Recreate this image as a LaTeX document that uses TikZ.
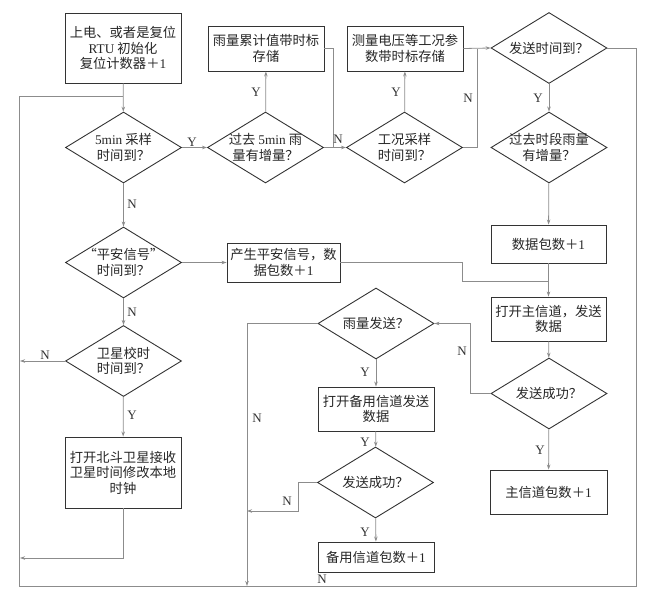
\documentclass[tikz,border=0pt]{standalone}
\usepackage{fontspec}
\setmainfont{Noto Sans CJK SC}
\newfontfamily\lat{Liberation Serif}
\usetikzlibrary{arrows.meta,shapes.geometric}
\newcommand\Lt[1]{{\lat #1}}
\begin{document}
\begin{tikzpicture}[x=1pt,y=-1pt,
 font=\fontsize{13.3}{15.5}\selectfont,
 box/.style={draw=black!80,line width=0.9pt,inner sep=0pt,align=center,text=black!85},
 dia/.style={draw=black!80,line width=0.9pt,shape=diamond,inner sep=0pt,minimum width=116pt,minimum height=71pt},
 dl/.style={label={[align=center,font=\fontsize{13.3}{15.5}\selectfont,text=black!85]center:#1}},
 conn/.style={draw=black!45,line width=0.8pt},
 arr/.style={conn,-{Stealth[length=5pt,width=3.5pt]}},
 yn/.style={font=\lat\fontsize{13}{15}\selectfont,text=black!80,inner sep=0pt}
]
\useasboundingbox (0,0) rectangle (665,600);

% boxes
\node[box,minimum width=116pt,minimum height=70pt] (b1) at (123,48) {上电、或者是复位\\\Lt{RTU} 初始化\\复位计数器＋\Lt{1}};
\node[box,minimum width=116pt,minimum height=45pt] (b2) at (266,48.5) {雨量累计值带时标\\存储};
\node[box,minimum width=116pt,minimum height=45pt] (b3) at (405,48.5) {测量电压等工况参\\数带时标存储};
\node[box,minimum width=115pt,minimum height=38pt] (b4) at (548.5,244) {数据包数＋\Lt{1}};
\node[box,minimum width=115pt,minimum height=44pt] (b5) at (548.5,319) {打开主信道，发送\\数据};
\node[box,minimum width=117pt,minimum height=44pt] (b8) at (548.5,492) {主信道包数＋\Lt{1}};
\node[box,minimum width=113pt,minimum height=39pt] (b9) at (283.5,262.5) {产生平安信号，数\\据包数＋\Lt{1}};
\node[box,minimum width=116pt,minimum height=44pt] (b6) at (376,409) {打开备用信道发送\\数据};
\node[box,minimum width=116pt,minimum height=30pt] (b7) at (376,557) {备用信道包数＋\Lt{1}};
\node[box,minimum width=116pt,minimum height=71pt] (b10) at (123,472.5) {打开北斗卫星接收\\卫星时间修改本地\\时钟};

% diamonds
\node[dia,dl={\Lt{5min} 采样\\时间到？}] (d1) at (123.5,147.5) {};
\node[dia,dl={过去 \Lt{5min} 雨\\量有增量？}] (d2) at (265.5,147.5) {};
\node[dia,dl={工况采样\\时间到？}] (d3) at (404.5,147.5) {};
\node[dia,dl={发送时间到？}] (d4) at (549,48) {};
\node[dia,dl={过去时段雨量\\有增量？}] (d5) at (549,147.5) {};
\node[dia,dl={“平安信号”\\时间到？}] (d9) at (123.5,262.5) {};
\node[dia,dl={卫星校时\\时间到？}] (d10) at (123.5,361) {};
\node[dia,dl={雨量发送？}] (d7) at (376,323.5) {};
\node[dia,dl={发送成功？}] (d8) at (375.5,482.5) {};
\node[dia,dl={发送成功？}] (d6) at (549,393.5) {};

% junction coordinates
\coordinate (j1) at (123,96);
\coordinate (j2) at (333,147.5);
\coordinate (j3) at (549,281);
\coordinate (eL1) at (20,361);
\coordinate (eL2) at (20,558);
\coordinate (eB) at (247,586);
\coordinate (eM) at (247,511);

% connectors
\draw[arr] (b1) -- (d1);
\draw[conn] (d4.east) -- (636,48) -- (636,586) -- (19,586) -- (19,96) -- (j1);
\draw[arr] (d1) -- (d2);
\draw[arr] (d2) -- (b2);
\draw[conn] (b2.east) -| (j2);
\draw[arr] (d2) -- (d3);
\draw[arr] (d3) -- (b3);
\draw[arr] (b3.east) -- (d4.west);
\draw[conn] (d3.east) -- (477,147.5) -- (477,49);
\draw[arr] (d4) -- (d5);
\draw[arr] (d5) -- (b4);
\draw[arr] (b4) -- (b5);
\draw[conn] (b9.east) -- (462,262.5) |- (j3);
\draw[arr] (b5) -- (d6);
\draw[arr] (d6.west) -- (470,393.5) |- (d7.east);
\draw[arr] (d7.west) -| (eB);
\draw[arr] (d7) -- (b6);
\draw[arr] (b6) -- (d8);
\draw[arr] (d8.west) -- (298,482.5) |- (eM);
\draw[arr] (d8) -- (b7);
\draw[arr] (d6) -- (b8);
\draw[arr] (d1) -- (d9);
\draw[arr] (d9) -- (b9);
\draw[arr] (d9) -- (d10);
\draw[arr] (d10.west) -- (eL1);
\draw[arr] (d10) -- (b10);
\draw[arr] (b10.south) |- (eL2);

% labels
\node[yn] (y1) at (192,142) {Y};
\node[yn] (y2) at (256,92) {Y};
\node[yn] (n1) at (338,139) {N};
\node[yn] (y3) at (396,92) {Y};
\node[yn] (n2) at (468,98) {N};
\node[yn] (y4) at (538,98) {Y};
\node[yn] (n3) at (462,351) {N};
\node[yn] (n4) at (257,418) {N};
\node[yn] (y5) at (365,372) {Y};
\node[yn] (y6) at (365,442) {Y};
\node[yn] (n5) at (287,501) {N};
\node[yn] (y7) at (365,532) {Y};
\node[yn] (n6) at (322,579) {N};
\node[yn] (y8) at (540,450) {Y};
\node[yn] (n7) at (132,204) {N};
\node[yn] (n8) at (132,312) {N};
\node[yn] (n9) at (45,355) {N};
\node[yn] (y9) at (132,415) {Y};
\end{tikzpicture}
\end{document}
